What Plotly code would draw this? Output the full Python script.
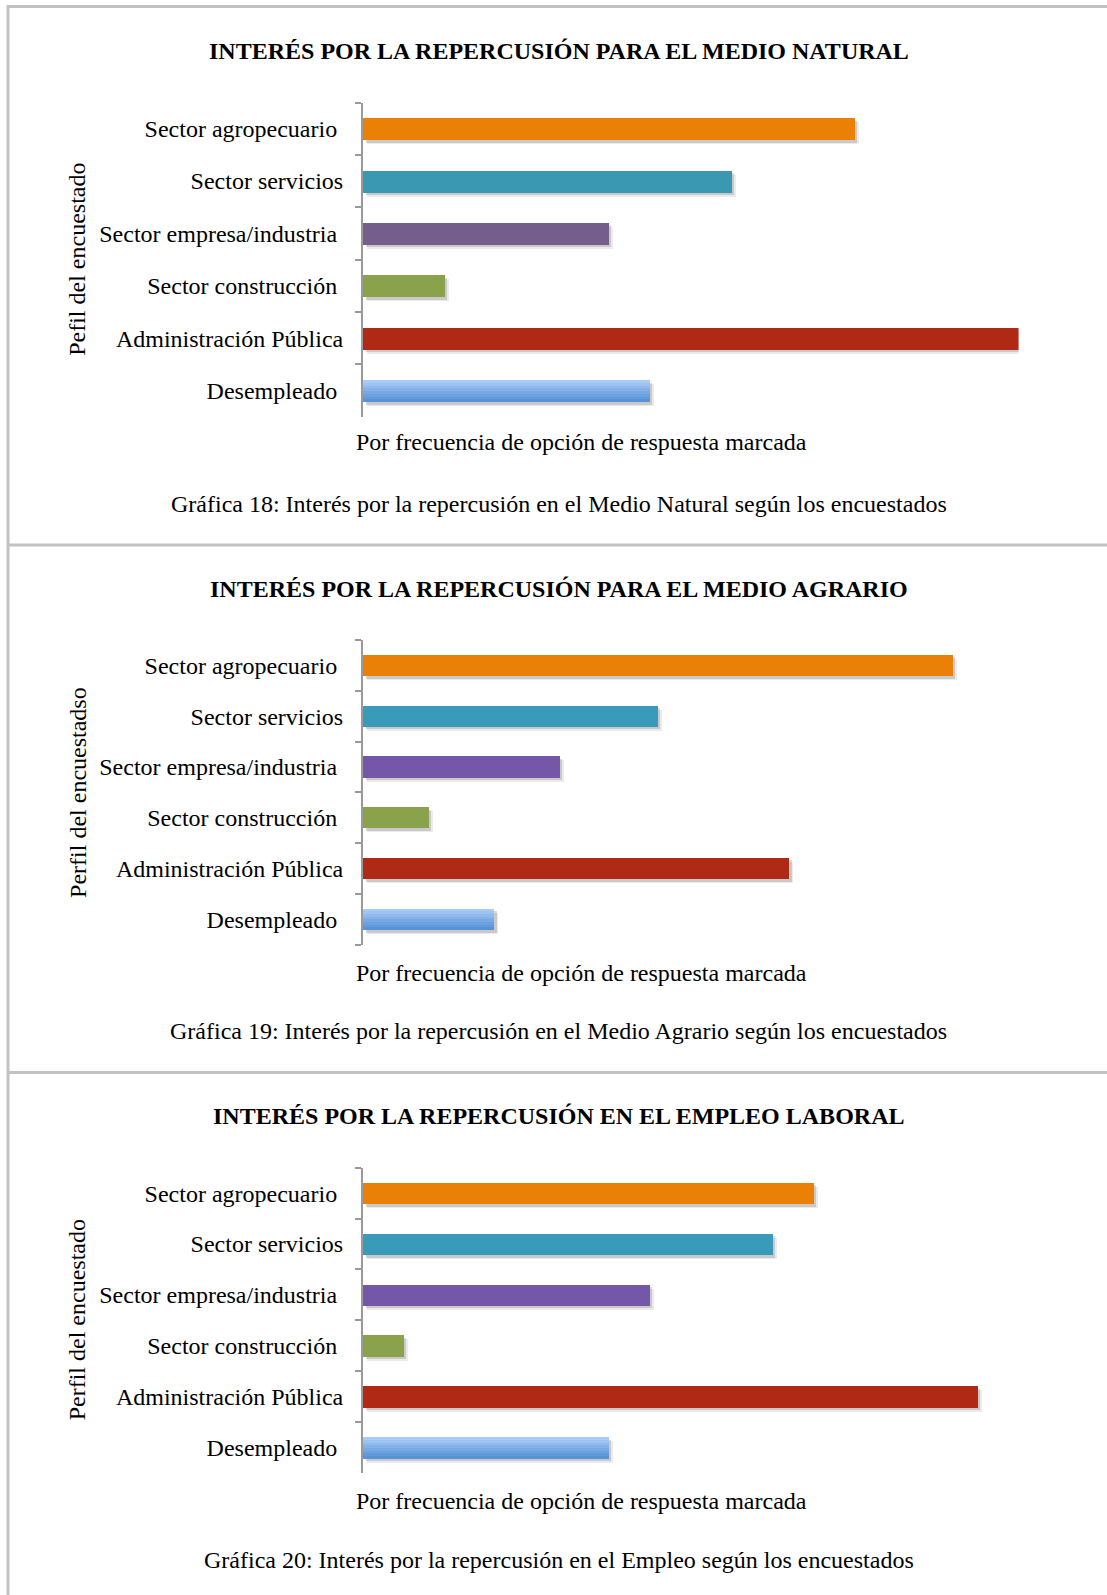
import plotly.graph_objects as go

# categorias del eje y (de arriba a abajo)
categorias = ["Sector agropecuario", "Sector servicios", "Sector empresa/industria",
              "Sector construcción", "Administración Pública", "Desempleado"]
# etiquetas tal cual aparecen (algunas llevan un espacio final)
etiquetas = ["Sector agropecuario\u00a0", "Sector servicios", "Sector empresa/industria\u00a0",
             "Sector construcción\u00a0", "Administración Pública", "Desempleado\u00a0"]

medio_natural = [12, 9, 6, 2, 16, 7]
medio_agrario = [18, 9, 6, 2, 13, 4]
empleo = [11, 10, 7, 1, 15, 6]
x_max = [16, 20, 16]

titulos = ["INTERÉS POR LA REPERCUSIÓN PARA EL MEDIO NATURAL",
           "INTERÉS POR LA REPERCUSIÓN PARA EL MEDIO AGRARIO",
           "INTERÉS POR LA REPERCUSIÓN EN EL EMPLEO LABORAL"]
titulos_y = ["Pefil del encuestado", "Perfil del encuestadso", "Perfil del encuestado"]
titulo_x = "Por frecuencia de opción de respuesta marcada"
pies = ["Gráfica 18: Interés por la repercusión en el Medio Natural según los encuestados",
        "Gráfica 19: Interés por la repercusión en el Medio Agrario según los encuestados",
        "Gráfica 20: Interés por la repercusión en el Empleo según los encuestados"]

W, H = 1107, 1595
FONT = "Liberation Serif, Times New Roman, serif"

colores = [
    ["#EB8006", "#3A98B2", "#765E8C", "#8BA24C", "#B02914"],
    ["#EB8006", "#3A9AB9", "#7557AA", "#8BA24C", "#B02914"],
    ["#EB8006", "#3A9AB9", "#7557AA", "#8BA24C", "#B02914"],
]
degradado = ["#A7CCF8", "#9CC3F2", "#90BAED", "#84B1E8", "#78A9E3", "#6CA1DF", "#609ADB", "#5794D7"]

# posiciones de cada panel en pixeles: (arriba, abajo) del eje y
paneles = [(102.5, 416.7), (640, 944.8), (1167.7, 1473)]
x0_px, x1_px = 363, 1018.5
# centros en y (px) de titulo, titulo x, pie, titulo y
textos_y = [(51, 441.6, 503.7, 259.5), (589, 972.7, 1030.7, 792.6), (1116.2, 1500.8, 1559.8, 1320)]

series = [medio_natural, medio_agrario, empleo]
BW = 0.42

fig = go.Figure()
annotations = []

for i, vals in enumerate(series):
    n = "" if i == 0 else str(i + 1)
    xa, ya = "x" + n, "y" + n
    unit = (x1_px - x0_px) / x_max[i]
    band = (paneles[i][1] - paneles[i][0]) / len(categorias)

    # sombras
    for k, (dx, dy, op) in enumerate([(4, 4, 0.08), (2.5, 2.5, 0.14)]):
        fig.add_trace(go.Bar(
            y=categorias, x=vals, base=dx / unit, orientation="h", width=BW,
            offset=-BW / 2 + dy / band,
            marker=dict(color="rgba(0,0,0,%.2f)" % op, line=dict(width=0)),
            xaxis=xa, yaxis=ya, showlegend=False, hoverinfo="skip"))

    fig.add_trace(go.Bar(
        y=categorias[:-1], x=vals[:-1], orientation="h", width=BW,
        marker=dict(color=colores[i], line=dict(width=0)),
        xaxis=xa, yaxis=ya, showlegend=False))

    # Desempleado con degradado
    ns = len(degradado)
    for s, c in enumerate(degradado):
        fig.add_trace(go.Bar(
            y=categorias[-1:], x=vals[-1:], orientation="h", width=BW / ns + 0.002,
            offset=-BW / 2 + s * BW / ns,
            marker=dict(color=c, line=dict(width=0)),
            xaxis=xa, yaxis=ya, showlegend=False, hoverinfo="skip" if s else None))

    top, bot = paneles[i]
    fig.layout["xaxis" + n] = dict(
        domain=[x0_px / W, x1_px / W], range=[0, x_max[i]], anchor=ya,
        showticklabels=False, showline=False, showgrid=False, zeroline=False, ticks="")
    fig.layout["yaxis" + n] = dict(
        domain=[1 - bot / H, 1 - top / H], anchor=xa, type="category",
        categoryorder="array", categoryarray=categorias, autorange="reversed",
        tickvals=categorias, ticktext=etiquetas, tickson="boundaries",
        ticks="outside", ticklen=6, tickwidth=2, tickcolor="#999999",
        showline=True, linecolor="#9a9a9a", linewidth=2, showgrid=False, zeroline=False,
        ticklabelstandoff=13, tickfont=dict(family=FONT, size=24, color="black"))

    ty, txy, py, yty = textos_y[i]
    annotations += [
        dict(text="<b>%s</b>" % titulos[i], x=558.6 / W, y=1 - ty / H),
        dict(text=titulo_x, x=581.5 / W, y=1 - txy / H),
        dict(text=pies[i], x=558.6 / W, y=1 - py / H),
        dict(text=titulos_y[i], x=77.3 / W, y=1 - yty / H, textangle=-90),
    ]

for a in annotations:
    a.update(xref="paper", yref="paper", showarrow=False, xanchor="center", yanchor="middle",
             font=dict(family=FONT, size=24, color="black"))

# marco gris
gris = "#c2c2c2"
shapes = [
    dict(type="line", x0=8 / W, x1=1.01, y0=1 - 6.5 / H, y1=1 - 6.5 / H),
    dict(type="line", x0=8 / W, x1=8 / W, y0=1 - 5 / H, y1=-0.01),
    dict(type="line", x0=8 / W, x1=1.01, y0=1 - 545 / H, y1=1 - 545 / H),
    dict(type="line", x0=8 / W, x1=1.01, y0=1 - 1072.5 / H, y1=1 - 1072.5 / H),
]
for s in shapes:
    s.update(xref="paper", yref="paper", line=dict(color=gris, width=3))

fig.update_layout(
    template="none", width=W, height=H, margin=dict(l=0, r=0, t=0, b=0),
    barmode="overlay", bargap=0, paper_bgcolor="white", plot_bgcolor="rgba(0,0,0,0)",
    annotations=annotations, shapes=shapes, showlegend=False,
    font=dict(family=FONT, size=24, color="black"))

# sin margen del body para que la figura empiece en (0, 0)
fig.write_html("out.html", config={"displayModeBar": False},
               post_script="document.body.style.margin='0px';")
